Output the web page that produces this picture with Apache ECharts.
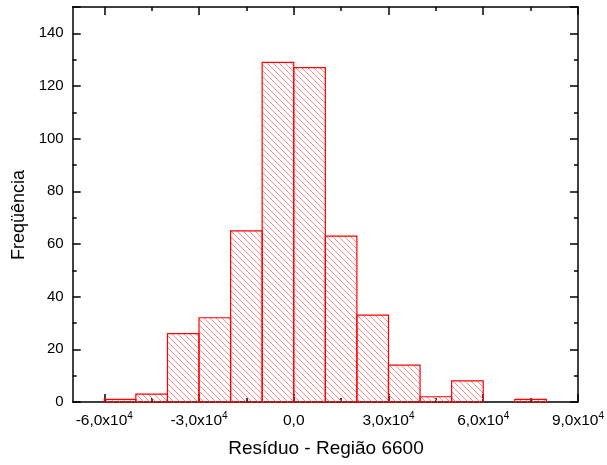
<!DOCTYPE html>
<html>
<head>
<meta charset="utf-8">
<script src="https://cdn.jsdelivr.net/npm/echarts@6/dist/echarts.min.js"></script>
<style>
html,body{margin:0;padding:0;background:#fff;}
#chart{width:607px;height:465px;}
</style>
</head>
<body>
<div id="chart"></div>
<script>
// Histogram data: bin edges (start, end) and counts
var binStart = [-60000, -50000, -40000, -30000, -20000, -10000, 0, 10000, 20000, 30000, 40000, 50000, 60000, 70000];
var binEnd   = [-50000, -40000, -30000, -20000, -10000, 0, 10000, 20000, 30000, 40000, 50000, 60000, 70000, 80000];
var counts   = [1, 3, 26, 32, 65, 129, 127, 63, 33, 14, 2, 8, 0, 1];
var xMajorTicks = [-60000, -30000, 0, 30000, 60000, 90000];
var xMinorTicks = [-45000, -15000, 15000, 45000, 75000];
var xTitle = 'Resíduo - Região 6600';
var yTitle = 'Freqüência';

var data = binStart.map(function (s, i) { return [s, binEnd[i], counts[i]]; });

// hatch pattern (crisp diagonal pixels, "\" direction)
var tile = document.createElement('canvas');
var S = 6;
tile.width = S; tile.height = S;
var g = tile.getContext('2d');
g.fillStyle = 'rgb(255,140,140)';
for (var i = 0; i < S; i++) {
  g.fillRect(i, i, 1, 1);
}
var hatch = { image: tile, repeat: 'repeat' };

var chart = echarts.init(document.getElementById('chart'), null, { renderer: 'canvas' });

var lineStyle = { color: '#000', width: 1.5 };
function xLabelFmt(v) {
  if (v === 0) return '{m|0,0}';
  var s = (v / 10000).toFixed(1).replace('.', ',');
  return '{m|' + s + 'x10}{s|4}';
}
var richX = {
  m: { fontSize: 15.5, fontFamily: 'Liberation Sans, Arial', color: '#000', lineHeight: 18, verticalAlign: 'bottom' },
  s: { fontSize: 10, fontFamily: 'Liberation Sans, Arial', color: '#000', lineHeight: 10, verticalAlign: 'top' }
};

function xAx(pos, ticks, len, showLine, showLabel) {
  return {
    type: 'value', min: -70000, max: 90000, position: pos, gridIndex: 0,
    axisLine: { show: showLine, onZero: false, lineStyle: lineStyle },
    axisTick: { show: true, inside: true, length: len, customValues: ticks, lineStyle: { color: '#000', width: 1.5 } },
    axisLabel: showLabel ? { show: true, customValues: ticks, formatter: xLabelFmt, rich: richX, margin: 9 } : { show: false },
    splitLine: { show: false }
  };
}
function yAx(pos, showLabel) {
  return {
    type: 'value', min: 0, max: 150, interval: 20, position: pos,
    axisLine: { show: true, onZero: false, lineStyle: lineStyle },
    axisTick: { show: true, inside: true, length: 8, lineStyle: { color: '#000', width: 1.5 } },
    minorTick: { show: true, splitNumber: 2, length: 4, lineStyle: { color: '#000', width: 1.5 } },
    axisLabel: showLabel ? {
      show: true, fontSize: 15, fontFamily: 'Liberation Sans, Arial', color: '#000', margin: 9,
      showMaxLabel: false,
      formatter: function (v) { return v % 20 === 0 ? String(v) : ''; }
    } : { show: false },
    splitLine: { show: false }
  };
}

chart.setOption({
  animation: false,
  backgroundColor: '#fff',
  grid: { left: 72.7, right: 27.7, top: 7, bottom: 63, containLabel: false },
  xAxis: [
    xAx('bottom', xMajorTicks, 8, true, true),
    xAx('bottom', xMinorTicks, 4, false, false),
    xAx('top', xMajorTicks, 8, true, false),
    xAx('top', xMinorTicks, 4, false, false)
  ],
  yAxis: [yAx('left', true), yAx('right', false)],
  series: [{
    type: 'custom',
    xAxisIndex: 0, yAxisIndex: 0,
    data: data,
    encode: { x: [0, 1], y: 2 },
    renderItem: function (params, api) {
      var c = api.value(2);
      if (!c) return null;
      var p0 = api.coord([api.value(0), c]);
      var p1 = api.coord([api.value(1), 0]);
      return {
        type: 'rect',
        shape: { x: p0[0], y: p0[1], width: p1[0] - p0[0], height: p1[1] - p0[1] },
        style: { fill: hatch, stroke: '#ff0000', lineWidth: 1.2 }
      };
    }
  }],
  graphic: [
    { type: 'text', x: 326, y: 449, style: { text: xTitle, fontSize: 19, fontFamily: 'Liberation Sans, Arial', fill: '#000', textAlign: 'center', textVerticalAlign: 'middle' } },
    { type: 'text', x: 19.5, y: 215, rotation: Math.PI / 2, style: { text: yTitle, fontSize: 18, fontFamily: 'Liberation Sans, Arial', fill: '#000', textAlign: 'center', textVerticalAlign: 'middle' } }
  ]
});
</script>
</body>
</html>
